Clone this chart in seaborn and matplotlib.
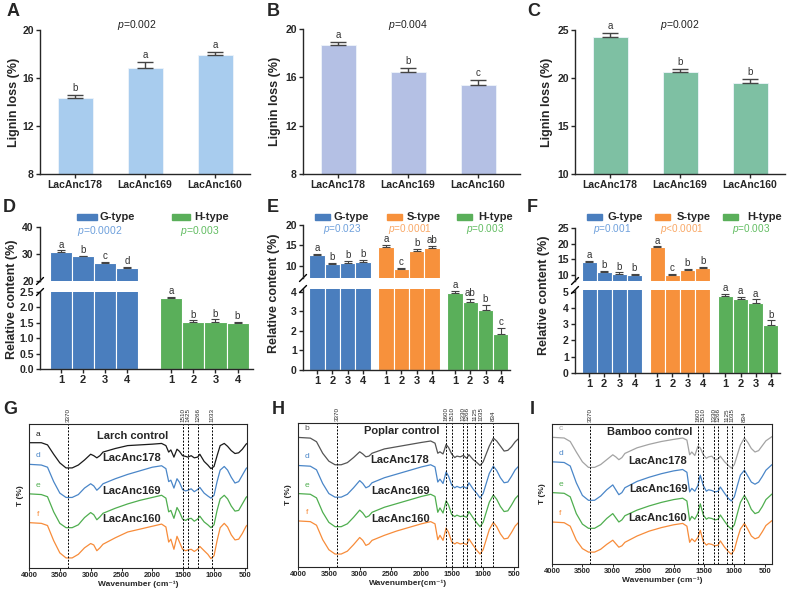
import numpy as np
import pandas as pd
import matplotlib
matplotlib.use('Agg')
import matplotlib.pyplot as plt
from matplotlib.patches import Rectangle
import seaborn as sns

sns.set_style('ticks')
plt.rcParams['font.family'] = ['Liberation Sans', 'DejaVu Sans']
plt.rcParams['mathtext.fontset'] = 'custom'
plt.rcParams['mathtext.it'] = 'Liberation Sans:italic'
plt.rcParams['mathtext.rm'] = 'Liberation Sans'
plt.rcParams['axes.linewidth'] = 1.0

W, H = 787, 591
fig = plt.figure(figsize=(W / 100, H / 100), dpi=100)


def rect(x0, y0, x1, y1):
    return [x0 / W, 1 - y1 / H, (x1 - x0) / W, (y1 - y0) / H]


# ---------------- data: lignin loss ----------------
strains = ['LacAnc178', 'LacAnc169', 'LacAnc160']
loss_A = [14.35, 16.85, 17.9]
err_A = [0.2, 0.45, 0.3]
let_A = ['b', 'a', 'a']
p_A = '0.002'
loss_B = [18.7, 16.45, 15.4]
err_B = [0.25, 0.3, 0.4]
let_B = ['a', 'b', 'c']
p_B = '0.004'
loss_C = [24.3, 20.6, 19.5]
err_C = [0.35, 0.37, 0.43]
let_C = ['a', 'b', 'b']
p_C = '0.002'

# ---------------- data: relative content ----------------
sample_labels = ['1', '2', '3', '4']
D_G = [30.7, 29.1, 26.7, 24.9]
D_G_err = [0.6, 0.3, 0.3, 0.35]
D_G_let = ['a', 'b', 'c', 'd']
D_H = [2.30, 1.52, 1.52, 1.49]
D_H_err = [0.04, 0.06, 0.09, 0.05]
D_H_let = ['a', 'b', 'b', 'b']

E_G = [12.6, 10.4, 10.7, 10.95]
E_G_err = [0.25, 0.35, 0.45, 0.5]
E_G_let = ['a', 'b', 'b', 'b']
E_S = [14.7, 9.1, 13.7, 14.4]
E_S_err = [0.4, 0.4, 0.4, 0.45]
E_S_let = ['a', 'c', 'b', 'ab']
E_H = [3.95, 3.48, 3.05, 1.85]
E_H_err = [0.12, 0.16, 0.3, 0.3]
E_H_let = ['a', 'ab', 'b', 'c']

F_G = [14.1, 10.9, 10.4, 9.9]
F_G_err = [0.3, 0.4, 0.4, 0.4]
F_G_let = ['a', 'b', 'b', 'b']
F_S = [18.8, 9.9, 11.6, 12.2]
F_S_err = [0.3, 0.4, 0.4, 0.45]
F_S_let = ['a', 'c', 'b', 'b']
F_H = [4.73, 4.53, 4.3, 2.95]
F_H_err = [0.13, 0.14, 0.23, 0.28]
F_H_let = ['a', 'a', 'a', 'b']

# ---------------- data: FTIR (transmittance, arbitrary units) ----------------
WN = [4000, 3800, 3700, 3600, 3500, 3400, 3300, 3200, 3100, 3000,
      2950, 2900, 2850, 2800, 2600, 2400, 2200, 2000, 1850, 1780,
      1735, 1700, 1650, 1600, 1560, 1510, 1460, 1425, 1370, 1320,
      1266, 1230, 1160, 1100, 1050, 1000, 950, 900, 834, 780,
      720, 660, 600, 540, 480, 380]

G_a = [87, 87, 85.5, 79, 73, 69.5, 69.5, 71.5, 75, 79,
       78, 76.5, 78, 80.5, 83, 85, 85.5, 86, 86.5, 85,
       80.5, 82, 77, 82.5, 81, 78, 77.5, 77, 78, 76.5,
       77, 79, 74, 71.5, 69, 70.5, 78, 85, 86.5, 84.5,
       81.5, 79.5, 80, 82.5, 86, 89]
G_d = [72, 71.5, 70, 60, 52, 49, 49, 51, 55.5, 58.5,
       57, 54, 56, 58.5, 62, 65, 67.5, 70, 71, 69,
       60, 61, 55.5, 62, 59.5, 54.5, 53.5, 54, 55, 53,
       54.5, 56, 52, 50, 48.5, 50.5, 60, 68, 70.5, 68,
       63, 59, 60, 64.5, 69, 73]
G_e = [51.5, 51, 49.5, 39, 31, 28, 28, 30, 35, 38.5,
       37, 33.5, 35.5, 38, 41.5, 44.5, 47, 49, 50.5, 48.5,
       39, 40, 34.5, 42, 39, 34, 33, 34, 34.5, 32.5,
       34, 36, 32, 30, 28, 30, 40, 48, 50.5, 48,
       43, 39.5, 40, 44.5, 49, 53]
G_f = [31.5, 31, 29.5, 19, 10.5, 7, 7, 9.5, 14, 17,
       16, 12, 14, 16.5, 21, 25, 27, 29, 30.5, 28.5,
       18, 20, 13, 22, 18, 13, 12, 12.5, 13, 11.5,
       13, 15, 12, 9.5, 6.5, 8.5, 19, 28, 31, 28.5,
       23, 19.5, 20, 24, 29, 33]

H_b = [90, 89.5, 87, 79, 73.5, 71, 71, 72.5, 76, 80,
       78.5, 76.5, 77, 79, 82, 83.5, 85, 86.5, 87.5, 86,
       79, 80, 78.5, 85, 83, 78.5, 76, 77, 76.5, 77.5,
       75.5, 78, 74.5, 72.5, 70.5, 73, 78.5, 84, 89.5, 87.5,
       84, 80.5, 81, 83.5, 87, 91]
H_d = [70.5, 70, 67.5, 58, 51, 48.5, 48.5, 50.5, 55, 60,
       58, 55, 56, 58.5, 62, 64.5, 67, 69.5, 71, 69.5,
       59, 61, 58, 66, 63, 57, 55, 56, 55, 56,
       54.5, 58.5, 54, 51, 48, 51, 58, 65, 70, 67,
       62, 58.5, 59, 63, 67.5, 72]
H_e = [51, 50.5, 48, 38, 31, 28, 28, 30, 34.5, 39.5,
       37.5, 34.5, 35.5, 38, 41.5, 44, 46.5, 49, 50.5, 49,
       38, 41, 37.5, 46, 43, 36.5, 35, 36, 35, 35.5,
       34.5, 38.5, 34, 30.5, 28, 31, 38, 45, 50, 47,
       42, 38.5, 39, 43, 47.5, 52]
H_f = [32, 31.5, 29, 19, 12, 9, 9, 11, 15.5, 20.5,
       18.5, 15, 16, 18.5, 22, 25, 27.5, 30, 31.5, 30,
       19, 22, 18.5, 27, 24, 17.5, 16, 17, 16, 16.5,
       15.5, 19.5, 15, 11.5, 9, 12, 19, 26, 31, 28,
       23, 19.5, 20, 24, 28.5, 33]

I_c = [90.5, 90, 87.5, 80, 73, 69, 69, 71, 74.5, 78,
       76.5, 74.5, 76, 79, 83, 85.5, 87.5, 89, 90, 88.5,
       78, 80, 77.5, 84, 83, 78, 75.5, 76.5, 77, 74.5,
       75, 77, 73, 70.5, 68.5, 71, 78, 85, 90, 87,
       82.5, 80, 81, 84.5, 88, 91]
I_d = [73, 72.5, 70, 58, 49, 45.5, 45.5, 48.5, 53, 56.5,
       53, 49.5, 51, 54.5, 59, 62, 64.5, 66.5, 67.5, 65.5,
       51.5, 54, 52, 56, 63.5, 56, 52, 53, 52.5, 51.5,
       52, 55, 50.5, 47, 45, 48, 56, 63.5, 67, 63,
       58.5, 57, 58.5, 62.5, 67, 71]
I_e = [51, 50.5, 48, 36, 28.5, 25.5, 25.5, 28, 32.5, 36,
       33, 30, 31.5, 34.5, 38.5, 41.5, 44, 46, 47, 45,
       31, 34, 32, 36, 43, 35, 32, 33, 32.5, 31.5,
       32, 35, 30.5, 27, 25, 28, 36, 44, 49, 45,
       39, 36, 37, 41, 46, 50]
I_f = [30, 29.5, 27, 17, 11, 8.5, 8.5, 10.5, 14, 17,
       14.5, 12, 13, 15.5, 20, 23.5, 26, 28, 29, 27,
       15.5, 18, 16, 19, 24, 16, 13.5, 14.5, 14, 13,
       13.5, 16.5, 12, 9, 7, 10, 18, 25, 29, 25,
       20, 18, 19, 23, 27.5, 31]

G_lines = [3370, 1510, 1425, 1266, 1033]
HI_lines = [3370, 1600, 1510, 1330, 1266, 1125, 1035, 834]

# ---------------- colours ----------------
C_G, C_S, C_H = '#4a7ebe', '#f7913c', '#5aaf5a'
P_G, P_S, P_H = '#6ea0dc', '#f9a866', '#62bd62'
ERR = '#444444'


def style_ticks(ax, size=7.5):
    ax.tick_params(labelsize=size, length=3, width=1, pad=1.5)
    for lab in ax.get_xticklabels() + ax.get_yticklabels():
        lab.set_fontweight('bold')


def ptext(x, y, s, color='#222222', size=7.5):
    fig.text(x / W, 1 - y / H, s, ha='center', va='center', fontsize=size, color=color)


# ---------------- A, B, C ----------------
def bar_panel(rc, vals, errs, lets, pval, color, ylim, yticks, xr, ptx, labx):
    ax = fig.add_axes(rect(*rc))
    sns.barplot(x=strains, y=vals, color=color, width=0.5, saturation=1,
                edgecolor='#eef4fa', linewidth=0.6, errorbar=None, ax=ax)
    ax.errorbar(range(3), vals, yerr=[np.zeros(3), errs], fmt='none', ecolor=ERR,
                elinewidth=1, capsize=6, capthick=1, zorder=3)
    for i, (v, e, l) in enumerate(zip(vals, errs, lets)):
        ax.annotate(l, (i, v + e), xytext=(0, 1.5), textcoords='offset points',
                    ha='center', va='bottom', fontsize=7, color='#333333')
    ax.set_ylim(ylim)
    ax.set_yticks(yticks)
    ax.set_xlim(-0.5, xr)
    sns.despine(ax=ax)
    ax.set_xlabel('')
    ax.set_ylabel('Lignin loss (%)', fontsize=9, fontweight='bold')
    ax.yaxis.set_label_coords(labx, 0.5)
    style_ticks(ax)
    ptext(ptx, 25, r'$\mathit{p}$=' + pval, size=7.5)
    return ax


bar_panel((40, 30, 250, 174), loss_A, err_A, let_A, p_A, '#a8ccee', (8, 20), [8, 12, 16, 20], 2.5, 137, -0.095)
bar_panel((303, 29, 520, 174), loss_B, err_B, let_B, p_B, '#b4c0e4', (8, 20), [8, 12, 16, 20], 2.6, 408, -0.10)
bar_panel((575, 30, 785, 174), loss_C, err_C, let_C, p_C, '#7ec0a3', (10, 25), [10, 15, 20, 25], 2.5, 680, -0.105)


# ---------------- D, E, F (broken axes) ----------------
def brk(ax, ypos):
    bb = ax.get_position()
    dx = 3.5 / (bb.width * W)
    dy = 3.5 / (bb.height * H)
    ax.plot([-dx, dx], [ypos - dy, ypos + dy], transform=ax.transAxes, color='k',
            lw=1, clip_on=False)


def broken(x0, x1, up, low, groups, ylu, yll, ytu, ytl, ytl_fmt, xlim, ylab_x, ylab_y):
    axu = fig.add_axes(rect(x0, up[0], x1, up[1]))
    axl = fig.add_axes(rect(x0, low[0], x1, low[1]))
    rows = []
    for g in groups:
        for i, v in enumerate(g['vals']):
            rows.append({'pos': g['start'] + i, 'val': v, 'type': g['name']})
    df = pd.DataFrame(rows)
    pal = {g['name']: g['color'] for g in groups}
    for ax in (axu, axl):
        sns.barplot(data=df, x='pos', y='val', hue='type', palette=pal, native_scale=True,
                    width=1, dodge=False, saturation=1, edgecolor='white', linewidth=0.8,
                    errorbar=None, legend=False, ax=ax)
        for g in groups:
            pos = g['start'] + np.arange(len(g['vals']))
            ax.errorbar(pos, g['vals'], yerr=[np.zeros(len(pos)), g['errs']], fmt='none',
                        ecolor=ERR, elinewidth=0.8, capsize=3, capthick=0.8, zorder=3)
        ax.set_xlim(xlim)
        ax.set_xlabel('')
        ax.set_ylabel('')
    for g in groups:
        ax = axu if g['upper'] else axl
        for i, (v, e, l) in enumerate(zip(g['vals'], g['errs'], g['lets'])):
            ax.annotate(l, (g['start'] + i, v + e), xytext=(0, 0.5), textcoords='offset points',
                        ha='center', va='bottom', fontsize=7, color='#333333',
                        annotation_clip=False)
    axu.set_ylim(ylu)
    axu.set_yticks(ytu)
    axl.set_ylim(yll)
    axl.set_yticks(ytl)
    axl.set_yticklabels([ytl_fmt.format(t) for t in ytl])
    for s in ('top', 'right', 'bottom'):
        axu.spines[s].set_visible(False)
    axu.tick_params(axis='x', bottom=False, labelbottom=False)
    for s in ('top', 'right'):
        axl.spines[s].set_visible(False)
    ticks, labels = [], []
    for g in groups:
        for i in range(len(g['vals'])):
            ticks.append(g['start'] + i)
            labels.append(sample_labels[i])
    axl.set_xticks(ticks)
    axl.set_xticklabels(labels)
    style_ticks(axu, 7.5)
    style_ticks(axl, 7.5)
    axl.tick_params(axis='x', labelsize=8)
    brk(axu, 0)
    brk(axl, 1)
    fig.text(ylab_x / W, 1 - ylab_y / H, 'Relative content (%)', rotation=90,
             ha='center', va='center', fontsize=9, fontweight='bold')


def legend_entry(px0, px1, tx, y, label, color):
    fig.patches.append(Rectangle((px0 / W, 1 - (y + 3) / H), (px1 - px0) / W, 6 / H,
                                 transform=fig.transFigure, color=color))
    fig.text(tx / W, 1 - y / H, label, ha='left', va='center', fontsize=8,
             fontweight='bold')


broken(40, 253, (227, 281), (292, 369),
       [dict(name='G-type', start=0, vals=D_G, errs=D_G_err, lets=D_G_let, color=C_G, upper=True),
        dict(name='H-type', start=5, vals=D_H, errs=D_H_err, lets=D_H_let, color=C_H, upper=False)],
       (20, 40), (0, 2.5), [20, 30, 40], [0, 0.5, 1.0, 1.5, 2.0, 2.5], '{:.1f}',
       (-0.95, 8.7), 12, 299)
legend_entry(77, 97, 100, 217, 'G-type', C_G)
legend_entry(172, 190, 194, 217, 'H-type', C_H)
ptext(100, 231, r'$\mathit{p}$=0.0002', P_G)
ptext(200, 231, r'$\mathit{p}$=0.003', P_H)

broken(303, 510, (225, 278), (289, 370),
       [dict(name='G-type', start=0, vals=E_G, errs=E_G_err, lets=E_G_let, color=C_G, upper=True),
        dict(name='S-type', start=4.5, vals=E_S, errs=E_S_err, lets=E_S_let, color=C_S, upper=True),
        dict(name='H-type', start=9, vals=E_H, errs=E_H_err, lets=E_H_let, color=C_H, upper=False)],
       (7, 20), (0, 4.15), [10, 15, 20], [0, 1, 2, 3, 4], '{:d}',
       (-0.92, 12.6), 274, 293)
legend_entry(315, 330, 333, 217, 'G-type', C_G)
legend_entry(387, 402, 407, 217, 'S-type', C_S)
legend_entry(457, 472, 478, 217, 'H-type', C_H)
ptext(342, 229, r'$\mathit{p}$=0.023', P_G, 7.2)
ptext(410, 229, r'$\mathit{p}$=0.0001', P_S, 7.2)
ptext(485, 229, r'$\mathit{p}$=0.003', P_H, 7.2)

broken(575, 780, (228, 281), (290, 373),
       [dict(name='G-type', start=0, vals=F_G, errs=F_G_err, lets=F_G_let, color=C_G, upper=True),
        dict(name='S-type', start=4.5, vals=F_S, errs=F_S_err, lets=F_S_let, color=C_S, upper=True),
        dict(name='H-type', start=9, vals=F_H, errs=F_H_err, lets=F_H_let, color=C_H, upper=False)],
       (8, 25), (0, 5.1), [10, 15, 20, 25], [0, 1, 2, 3, 4, 5], '{:d}',
       (-0.93, 12.6), 544, 295)
legend_entry(587, 602, 608, 217, 'G-type', C_G)
legend_entry(655, 670, 677, 217, 'S-type', C_S)
legend_entry(723, 738, 747, 217, 'H-type', C_H)
ptext(612, 229, r'$\mathit{p}$=0.001', P_G, 7.2)
ptext(682, 229, r'$\mathit{p}$<0.0001', P_S, 7.2)
ptext(751, 229, r'$\mathit{p}$=0.003', P_H, 7.2)


# ---------------- G, H, I (FTIR) ----------------
def ftir(rc, xr, curves, names, vlines, xlab, ylab_x):
    ax = fig.add_axes(rect(*rc))
    for vals, color, letter in curves:
        sns.lineplot(x=WN, y=vals, color=color, lw=0.9, ax=ax)
        ax.text(3860, vals[0] + 3.5, letter, color=color, fontsize=6, ha='center', va='bottom')
    for wn in vlines:
        ax.axvline(wn, color='k', lw=0.7, ls=(0, (2, 1.5)))
        ax.text(wn, 1.015, str(wn), transform=ax.get_xaxis_transform(), rotation=90,
                ha='center', va='bottom', fontsize=4.5)
    for txt, xf, yf in names:
        ax.text(xf, yf, txt, transform=ax.transAxes, ha='center', va='center',
                fontsize=8, fontweight='bold')
    ax.set_xlim(4000, xr)
    ax.set_ylim(0, 100)
    ax.set_xticks([4000, 3500, 3000, 2500, 2000, 1500, 1000, 500])
    ax.set_yticks([])
    for s in ax.spines.values():
        s.set_linewidth(0.8)
    ax.tick_params(axis='x', labelsize=5.5, length=2, width=0.7, pad=1)
    for lab in ax.get_xticklabels():
        lab.set_fontweight('bold')
    ax.set_xlabel(xlab, fontsize=6, fontweight='bold', labelpad=1)
    ax.set_ylabel('T (%)', fontsize=6, fontweight='bold')
    ax.yaxis.set_label_coords(ylab_x, 0.5)
    return ax


ftir((29, 424, 247, 568), 465,
     [(G_a, '#1a1a1a', 'a'), (G_d, '#4a86c8', 'd'), (G_e, '#4fae4f', 'e'), (G_f, '#f78c3a', 'f')],
     [('Larch control', 0.477, 0.917), ('LacAnc178', 0.472, 0.764),
      ('LacAnc169', 0.472, 0.535), ('LacAnc160', 0.472, 0.34)],
     G_lines, 'Wavenumber (cm⁻¹)', -0.025)
ftir((298, 423, 518, 567), 435,
     [(H_b, '#555555', 'b'), (H_d, '#4a86c8', 'd'), (H_e, '#4fae4f', 'e'), (H_f, '#f78c3a', 'f')],
     [('Poplar control', 0.473, 0.944), ('LacAnc178', 0.464, 0.743),
      ('LacAnc169', 0.464, 0.528), ('LacAnc160', 0.464, 0.333)],
     HI_lines, 'Wavenumber(cm⁻¹)', -0.025)
ftir((552, 424, 772, 564), 380,
     [(I_c, '#a3a3a3', 'c'), (I_d, '#4a86c8', 'd'), (I_e, '#4fae4f', 'e'), (I_f, '#f78c3a', 'f')],
     [('Bamboo control', 0.445, 0.943), ('LacAnc178', 0.482, 0.736),
      ('LacAnc169', 0.482, 0.536), ('LacAnc160', 0.482, 0.329)],
     HI_lines, 'Wavenumber (cm⁻¹)', -0.025)

# ---------------- panel letters ----------------
for letter, x, y in [('A', 7, 12), ('B', 267, 12), ('C', 527, 12),
                     ('D', 3, 208), ('E', 267, 208), ('F', 527, 208),
                     ('G', 3, 410), ('H', 272, 410), ('I', 530, 410)]:
    fig.text(x / W, 1 - y / H, letter, fontsize=13, fontweight='bold', ha='left', va='center')

fig.savefig('out.png', dpi=100)
